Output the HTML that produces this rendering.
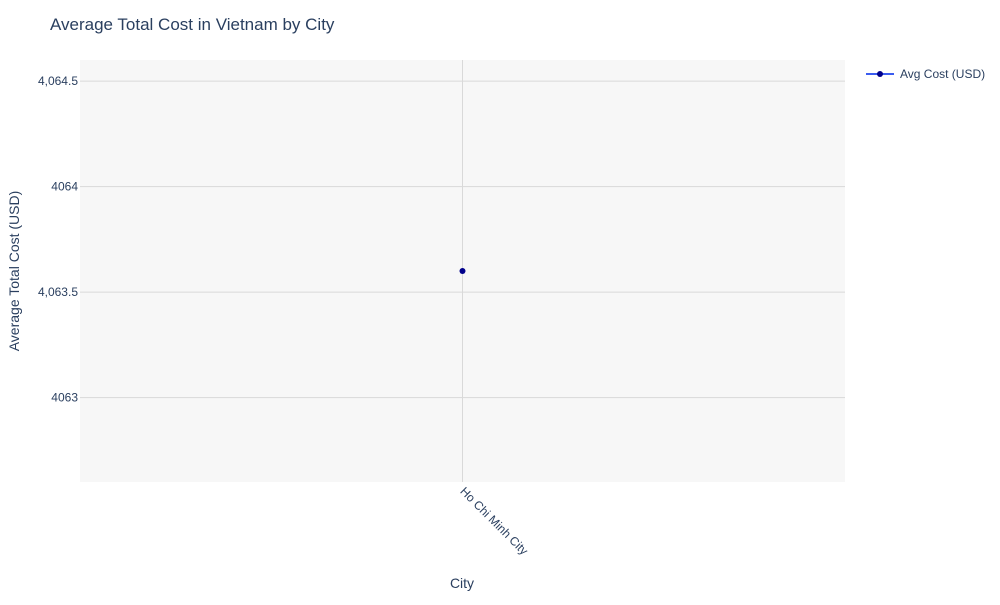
<!DOCTYPE html>
<html><head><meta charset="utf-8"><style>
body{margin:0;background:#fff;font-family:"Liberation Sans",sans-serif;}
svg text{font-family:"Liberation Sans",sans-serif;fill:#2a3f5f;}
</style></head><body>
<svg id="chart" width="1000" height="600">
<text x="50" y="30" font-size="17">Average Total Cost in Vietnam by City</text>
<rect x="80" y="60" width="765" height="422" fill="#f7f7f7"/>
<g id="grid"></g>
<g id="marks"></g>
<text x="462" y="588" font-size="14" text-anchor="middle">City</text>
<text transform="translate(19,271) rotate(-90)" font-size="14" text-anchor="middle">Average Total Cost (USD)</text>
<g>
<line x1="866" y1="74" x2="894" y2="74" stroke="#3b5cf0" stroke-width="2"/>
<circle cx="880" cy="74" r="3" fill="#00008b"/>
<text x="900" y="78" font-size="12">Avg Cost (USD)</text>
</g>
</svg>
<script>
const categories = ["Ho Chi Minh City"];
const values = [4063.6];
const yTicks = [4063, 4063.5, 4064, 4064.5];
const yTickLabels = ["4063", "4,063.5", "4064", "4,064.5"];
const NS = "http://www.w3.org/2000/svg";
const px0 = 80, px1 = 845, py0 = 60, py1 = 482;
const yMin = 4062.6, yMax = 4064.6;
function y(v){return py1 - (v - yMin) / (yMax - yMin) * (py1 - py0);}
function x(i){return px0 + (i + 0.5) * (px1 - px0) / categories.length;}
function mk(tag, attrs, parent){const e=document.createElementNS(NS,tag);for(const k in attrs)e.setAttribute(k,attrs[k]);parent.appendChild(e);return e;}
const grid = document.getElementById("grid"), marks = document.getElementById("marks");
yTicks.forEach((t,i)=>{
  const l = mk("line",{x1:px0,x2:px1,y1:y(t),y2:y(t),stroke:"#d9d9d9","stroke-width":1},grid);
  
  
  const tx = mk("text",{x:px0-2,y:y(t)+4,"font-size":12,"text-anchor":"end"},grid);
  tx.textContent = yTickLabels[i];
  
  
});
categories.forEach((c,i)=>{
  const l = mk("line",{x1:x(i),x2:x(i),y1:py0,y2:py1,stroke:"#d9d9d9","stroke-width":1},grid);
  
  
  const tx = mk("text",{transform:`translate(${x(i)-3},${py1+10}) rotate(45)`,"font-size":12},grid);
  tx.textContent = c;
  
  
  const p = mk("circle",{cx:x(i),cy:y(values[i]),r:3,fill:"#00008b"},marks);
  
  
});
</script>
</body></html>
